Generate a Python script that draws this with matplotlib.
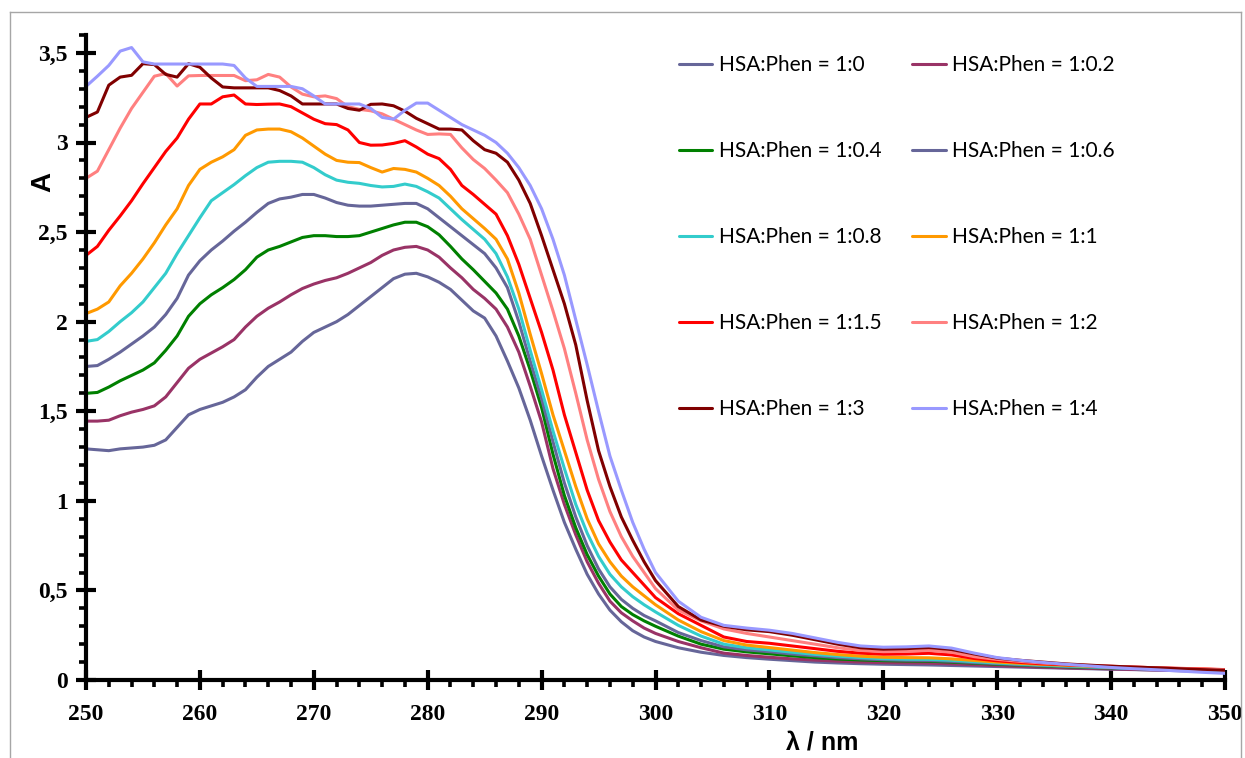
import matplotlib
matplotlib.use("Agg")
import matplotlib.pyplot as plt
from matplotlib.ticker import MultipleLocator, FuncFormatter
from matplotlib.lines import Line2D

wavelength = list(range(250, 301)) + list(range(302, 351, 2))

labels = ["HSA:Phen = 1:0", "HSA:Phen = 1:0.2", "HSA:Phen = 1:0.4", "HSA:Phen = 1:0.6",
          "HSA:Phen = 1:0.8", "HSA:Phen = 1:1", "HSA:Phen = 1:1.5", "HSA:Phen = 1:2",
          "HSA:Phen = 1:3", "HSA:Phen = 1:4"]
colors = ["#666699", "#993366", "#008000", "#666699", "#33CCCC",
          "#FF9900", "#FF0000", "#FF8080", "#800000", "#9999FF"]

a_1_0 = [1.29, 1.285, 1.28, 1.29, 1.295, 1.30, 1.31, 1.34, 1.41, 1.48,
         1.51, 1.53, 1.55, 1.58, 1.62, 1.69, 1.75, 1.79, 1.83, 1.89,
         1.94, 1.97, 2.00, 2.04, 2.09, 2.14, 2.19, 2.24, 2.265, 2.27,
         2.25, 2.22, 2.18, 2.12, 2.06, 2.02, 1.92, 1.78, 1.63, 1.45,
         1.25, 1.06, 0.88, 0.73, 0.59, 0.48, 0.39, 0.325, 0.275, 0.24,
         0.215,
         0.18, 0.155, 0.137, 0.125, 0.116, 0.108, 0.10, 0.095, 0.091, 0.088,
         0.086, 0.084, 0.081, 0.078, 0.075, 0.072, 0.069, 0.066, 0.063, 0.06,
         0.058, 0.055, 0.052, 0.05, 0.048]
a_1_02 = [1.445, 1.445, 1.45, 1.475, 1.495, 1.51, 1.53, 1.58, 1.66, 1.74,
          1.79, 1.825, 1.86, 1.90, 1.97, 2.03, 2.075, 2.11, 2.15, 2.185,
          2.21, 2.23, 2.245, 2.27, 2.30, 2.33, 2.37, 2.40, 2.415, 2.42,
          2.40, 2.36, 2.30, 2.245, 2.18, 2.13, 2.07, 1.97, 1.83, 1.64,
          1.44, 1.18, 0.98, 0.81, 0.66, 0.54, 0.44, 0.375, 0.33, 0.29,
          0.26,
          0.215, 0.18, 0.15, 0.137, 0.127, 0.118, 0.111, 0.105, 0.10, 0.097,
          0.095, 0.094, 0.09, 0.085, 0.08, 0.076, 0.072, 0.068, 0.065, 0.062,
          0.059, 0.056, 0.053, 0.051, 0.049]
a_1_04 = [1.60, 1.605, 1.635, 1.67, 1.70, 1.73, 1.77, 1.84, 1.92, 2.03,
          2.10, 2.15, 2.19, 2.235, 2.29, 2.36, 2.40, 2.42, 2.445, 2.47,
          2.48, 2.48, 2.475, 2.475, 2.48, 2.50, 2.52, 2.54, 2.555, 2.555,
          2.53, 2.485, 2.42, 2.35, 2.29, 2.225, 2.16, 2.07, 1.92, 1.73,
          1.52, 1.26, 1.03, 0.85, 0.70, 0.58, 0.48, 0.41, 0.365, 0.33,
          0.30,
          0.245, 0.20, 0.172, 0.157, 0.146, 0.135, 0.125, 0.117, 0.112, 0.108,
          0.106, 0.105, 0.10, 0.094, 0.088, 0.083, 0.078, 0.074, 0.07, 0.067,
          0.064, 0.06, 0.057, 0.055, 0.053]
a_1_06 = [1.75, 1.755, 1.79, 1.83, 1.875, 1.92, 1.97, 2.04, 2.13, 2.26,
          2.34, 2.40, 2.45, 2.505, 2.555, 2.61, 2.66, 2.685, 2.695, 2.71,
          2.71, 2.69, 2.665, 2.65, 2.645, 2.645, 2.65, 2.655, 2.66, 2.66,
          2.63, 2.58, 2.53, 2.48, 2.43, 2.38, 2.30, 2.19, 2.00, 1.78,
          1.57, 1.33, 1.10, 0.91, 0.75, 0.62, 0.52, 0.45, 0.40, 0.36,
          0.33,
          0.265, 0.22, 0.185, 0.168, 0.158, 0.145, 0.135, 0.125, 0.118, 0.113,
          0.11, 0.109, 0.104, 0.097, 0.091, 0.085, 0.08, 0.076, 0.072, 0.068,
          0.065, 0.062, 0.058, 0.056, 0.054]
a_1_08 = [1.89, 1.90, 1.945, 2.00, 2.05, 2.11, 2.19, 2.27, 2.38, 2.48,
          2.58, 2.675, 2.72, 2.765, 2.815, 2.86, 2.89, 2.895, 2.895, 2.89,
          2.86, 2.82, 2.79, 2.778, 2.772, 2.76, 2.752, 2.755, 2.768, 2.755,
          2.725, 2.69, 2.63, 2.57, 2.515, 2.46, 2.38, 2.25, 2.07, 1.84,
          1.62, 1.39, 1.18, 0.98, 0.82, 0.69, 0.59, 0.52, 0.465, 0.42,
          0.38,
          0.305, 0.245, 0.20, 0.18, 0.168, 0.155, 0.143, 0.133, 0.125, 0.119,
          0.116, 0.115, 0.11, 0.102, 0.095, 0.089, 0.083, 0.078, 0.074, 0.07,
          0.066, 0.063, 0.059, 0.057, 0.055]
a_1_1 = [2.045, 2.07, 2.11, 2.20, 2.27, 2.35, 2.44, 2.54, 2.63, 2.76,
         2.85, 2.89, 2.92, 2.96, 3.04, 3.07, 3.075, 3.075, 3.06, 3.025,
         2.98, 2.935, 2.90, 2.89, 2.888, 2.86, 2.835, 2.855, 2.85, 2.835,
         2.80, 2.76, 2.70, 2.63, 2.575, 2.52, 2.46, 2.35, 2.16, 1.93,
         1.71, 1.48, 1.28, 1.08, 0.90, 0.76, 0.66, 0.58, 0.52, 0.47,
         0.42,
         0.335, 0.27, 0.22, 0.195, 0.181, 0.167, 0.153, 0.142, 0.133, 0.127,
         0.125, 0.124, 0.118, 0.109, 0.10, 0.093, 0.087, 0.082, 0.077, 0.073,
         0.069, 0.066, 0.062, 0.06, 0.057]
a_1_15 = [2.37, 2.42, 2.51, 2.59, 2.675, 2.77, 2.86, 2.95, 3.025, 3.13,
          3.215, 3.215, 3.255, 3.265, 3.215, 3.212, 3.214, 3.215, 3.20, 3.165,
          3.13, 3.105, 3.10, 3.07, 3.00, 2.985, 2.986, 2.995, 3.01, 2.975,
          2.935, 2.91, 2.85, 2.76, 2.71, 2.655, 2.60, 2.48, 2.32, 2.13,
          1.94, 1.73, 1.48, 1.27, 1.06, 0.89, 0.77, 0.67, 0.60, 0.53,
          0.46,
          0.37, 0.305, 0.24, 0.215, 0.205, 0.19, 0.175, 0.16, 0.15, 0.144,
          0.145, 0.149, 0.14, 0.12, 0.107, 0.098, 0.09, 0.085, 0.08, 0.076,
          0.072, 0.068, 0.065, 0.062, 0.058]
a_1_2 = [2.80, 2.84, 2.96, 3.08, 3.19, 3.28, 3.37, 3.385, 3.315, 3.372,
         3.374, 3.374, 3.374, 3.374, 3.345, 3.35, 3.38, 3.365, 3.31, 3.27,
         3.255, 3.26, 3.245, 3.20, 3.185, 3.177, 3.16, 3.13, 3.10, 3.07,
         3.045, 3.048, 3.045, 2.97, 2.905, 2.855, 2.79, 2.72, 2.60, 2.46,
         2.26, 2.06, 1.85, 1.60, 1.34, 1.12, 0.94, 0.80, 0.69, 0.60,
         0.51,
         0.39, 0.33, 0.285, 0.26, 0.24, 0.22, 0.20, 0.18, 0.165, 0.158,
         0.16, 0.165, 0.155, 0.13, 0.115, 0.104, 0.095, 0.088, 0.082, 0.077,
         0.072, 0.068, 0.064, 0.061, 0.057]
a_1_3 = [3.14, 3.17, 3.32, 3.365, 3.375, 3.44, 3.435, 3.38, 3.365, 3.44,
         3.42, 3.36, 3.31, 3.305, 3.305, 3.305, 3.305, 3.29, 3.26, 3.215,
         3.215, 3.215, 3.215, 3.19, 3.18, 3.213, 3.215, 3.205, 3.175, 3.135,
         3.105, 3.075, 3.075, 3.07, 3.01, 2.96, 2.94, 2.89, 2.79, 2.66,
         2.48, 2.29, 2.10, 1.87, 1.56, 1.28, 1.08, 0.91, 0.78, 0.66,
         0.555,
         0.41, 0.335, 0.30, 0.28, 0.27, 0.25, 0.225, 0.20, 0.18, 0.172,
         0.175, 0.181, 0.17, 0.145, 0.122, 0.11, 0.10, 0.09, 0.083, 0.077,
         0.072, 0.068, 0.063, 0.058, 0.054]
a_1_4 = [3.313, 3.37, 3.43, 3.51, 3.53, 3.45, 3.438, 3.438, 3.438, 3.438,
         3.438, 3.438, 3.438, 3.43, 3.36, 3.313, 3.313, 3.313, 3.313, 3.30,
         3.26, 3.215, 3.215, 3.215, 3.215, 3.19, 3.14, 3.13, 3.18, 3.22,
         3.22, 3.18, 3.14, 3.10, 3.07, 3.04, 3.00, 2.94, 2.86, 2.76,
         2.63, 2.46, 2.26, 2.01, 1.76, 1.50, 1.25, 1.06, 0.88, 0.73,
         0.60,
         0.44, 0.35, 0.305, 0.29, 0.278, 0.26, 0.235, 0.21, 0.19, 0.183,
         0.185, 0.19, 0.178, 0.15, 0.125, 0.11, 0.098, 0.088, 0.079, 0.07,
         0.063, 0.057, 0.05, 0.043, 0.037]

series = [a_1_0, a_1_02, a_1_04, a_1_06, a_1_08, a_1_1, a_1_15, a_1_2, a_1_3, a_1_4]

W, H = 1245, 758
fig = plt.figure(figsize=(W / 100, H / 100), dpi=100)
ax = fig.add_axes([86 / W, (H - 680) / H, (1225 - 86) / W, (680 - 35) / H])

handles = []
for y, c, lab in zip(series, colors, labels):
    ln, = ax.plot(wavelength, y, color=c, lw=2.2, label=lab,
                  solid_joinstyle="round", solid_capstyle="round")
    handles.append(ln)

ax.set_xlim(250, 350)
ax.set_ylim(0, 3.6)
for s in ["top", "right"]:
    ax.spines[s].set_visible(False)
for s in ["left", "bottom"]:
    ax.spines[s].set_linewidth(3)
ax.xaxis.set_major_locator(MultipleLocator(10))
ax.xaxis.set_minor_locator(MultipleLocator(2))
ax.yaxis.set_major_locator(MultipleLocator(0.5))
ax.yaxis.set_minor_locator(MultipleLocator(0.1))
ax.yaxis.set_major_formatter(FuncFormatter(lambda v, p: f"{v:g}".replace(".", ",")))
ax.tick_params(which="major", direction="inout", length=14, width=3)
ax.tick_params(which="minor", direction="out", length=5, width=2.6)
ax.tick_params(axis="x", which="major", pad=10)
ax.tick_params(axis="y", which="major", pad=6)
for t in ax.get_xticklabels() + ax.get_yticklabels():
    t.set_fontfamily("Liberation Serif")
    t.set_fontweight("bold")
    t.set_fontsize(17)

fig.text(43 / W, 1 - 182 / H, "A", rotation=90, ha="center", va="center",
         fontfamily="Liberation Sans", fontweight="bold", fontsize=20)
fig.text(822 / W, 1 - 742 / H, "λ / nm", ha="center", va="center",
         fontfamily="Liberation Sans", fontweight="bold", fontsize=18)

order = [0, 2, 4, 6, 8, 1, 3, 5, 7, 9]
leg = fig.legend([handles[i] for i in order], [labels[i] for i in order],
                 ncol=2, loc="upper left", bbox_to_anchor=(679 / W, 1 - 55 / H),
                 frameon=False, borderpad=0, borderaxespad=0,
                 handlelength=1.6, handletextpad=0.3, columnspacing=1.5,
                 labelspacing=3.17, prop={"family": "Lato", "size": 15})

# thin outer frame of the chart area
frame_kw = dict(transform=fig.transFigure, color="#A6A6A6", lw=1)
fig.add_artist(Line2D([10 / W, 10 / W], [0, 1 - 12 / H], **frame_kw))
fig.add_artist(Line2D([10 / W, 1241 / W], [1 - 12 / H, 1 - 12 / H], **frame_kw))
fig.add_artist(Line2D([1241 / W, 1241 / W], [0, 1 - 12 / H], **frame_kw))

fig.savefig("out.png", dpi=100)
